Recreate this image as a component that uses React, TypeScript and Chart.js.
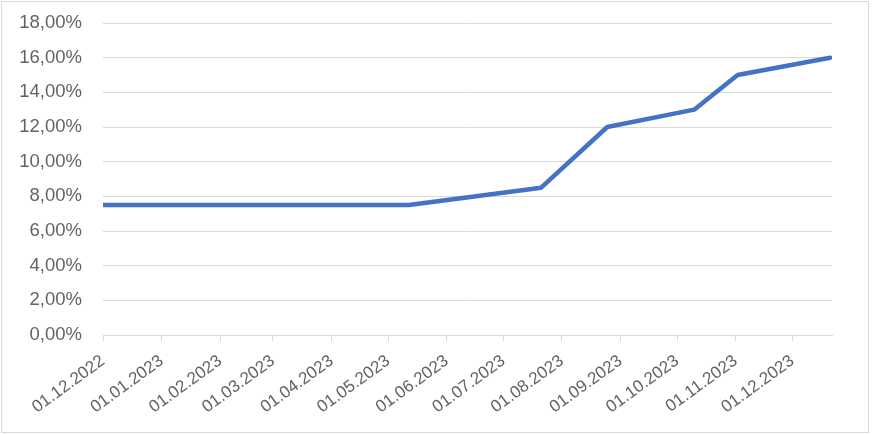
import React, { useEffect, useRef } from "react";
import { Chart, registerables } from "chart.js";

Chart.register(...registerables);

// Month tick labels on the date axis
const tickLabels = [
  "01.12.2022", "01.01.2023", "01.02.2023", "01.03.2023", "01.04.2023",
  "01.05.2023", "01.06.2023", "01.07.2023", "01.08.2023", "01.09.2023",
  "01.10.2023", "01.11.2023", "01.12.2023",
];

// Series points (date, rate %)
const pointDates = [
  "01.12.2022", "12.05.2023", "21.07.2023", "25.08.2023",
  "10.10.2023", "02.11.2023", "21.12.2023",
];
const rates = [7.5, 7.5, 8.5, 12, 13, 15, 16];

const axisStart = "01.12.2022";
const axisEnd = "22.12.2023";

function toDay(s: string): number {
  const [d, m, y] = s.split(".").map(Number);
  const base = Date.UTC(2022, 11, 1);
  return Math.round((Date.UTC(y, m - 1, d) - base) / 86400000);
}

export default function App() {
  const ref = useRef<HTMLCanvasElement | null>(null);

  useEffect(() => {
    if (!ref.current) return;
    const tickValues = tickLabels.map(toDay);
    const labelByDay: Record<number, string> = {};
    tickLabels.forEach((l, i) => (labelByDay[tickValues[i]] = l));
    const family = "'Liberation Sans', Arial, sans-serif";

    const chart = new Chart(ref.current, {
      type: "line",
      data: {
        datasets: [
          {
            data: pointDates.map((d, i) => ({ x: toDay(d), y: rates[i] })),
            borderColor: "#4472C4",
            borderWidth: 4.5,
            pointRadius: 0,
            tension: 0,
            borderJoinStyle: "round",
            borderCapStyle: "round",
          },
        ],
      },
      options: {
        responsive: false,
        animation: false,
        layout: { padding: { left: 0, right: 36, top: 21, bottom: 0 } },
        plugins: { legend: { display: false }, tooltip: { enabled: false } },
        scales: {
          x: {
            type: "linear",
            min: toDay(axisStart),
            max: toDay(axisEnd),
            afterBuildTicks: (axis: any) => {
              axis.ticks = tickValues.map((v) => ({ value: v }));
            },
            afterFit: (axis: any) => {
              axis.height = 97;
              axis.paddingLeft = 0;
              axis.paddingRight = 0;
            },
            ticks: {
              autoSkip: false,
              minRotation: 36,
              maxRotation: 36,
              color: "#636363",
              font: { family, size: 17 },
              padding: 10,
              callback: (v: any) => labelByDay[v as number] ?? "",
            },
            grid: {
              drawOnChartArea: false,
              drawTicks: true,
              tickLength: 6,
              color: "#d9d9d9",
            },
            border: { display: true, color: "#d9d9d9", width: 1 },
          },
          y: {
            min: 0,
            max: 18,
            afterFit: (axis: any) => {
              axis.width = 101;
              axis.paddingTop = 0;
              axis.paddingBottom = 0;
            },
            ticks: {
              stepSize: 2,
              color: "#636363",
              font: { family, size: 18.5 },
              padding: 21,
              callback: (v: any) => Number(v).toFixed(2).replace(".", ",") + "%",
            },
            grid: { color: "#d9d9d9", drawTicks: false, lineWidth: 1 },
            border: { display: false },
          },
        },
      },
    } as any);
    return () => chart.destroy();
  }, []);

  return (
    <div
      style={{
        position: "absolute",
        left: 0,
        top: 0,
        width: 877,
        height: 434,
        background: "#fff",
      }}
    >
      <div
        style={{
          position: "absolute",
          left: 1,
          top: 1,
          width: 868,
          height: 432,
          border: "1px solid #d9d9d9",
          boxSizing: "border-box",
        }}
      >
        <canvas ref={ref} width={866} height={430} style={{ display: "block" }} />
      </div>
    </div>
  );
}
